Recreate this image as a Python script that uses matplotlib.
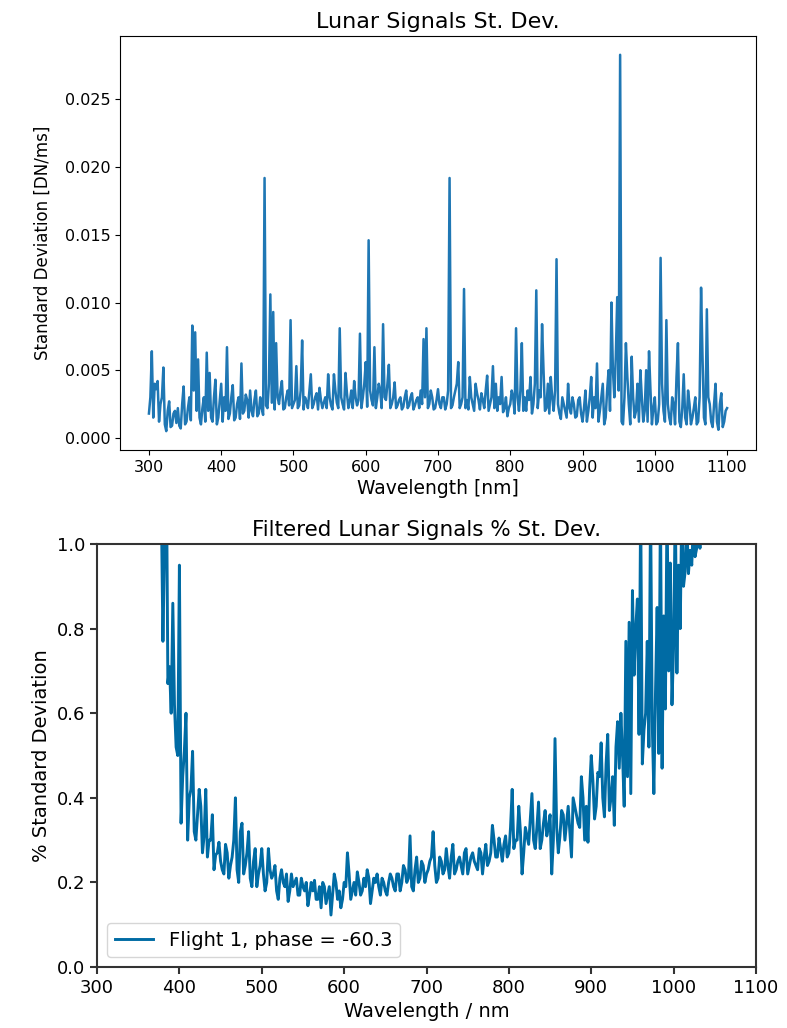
import matplotlib
matplotlib.use('Agg')
import matplotlib.pyplot as plt
import numpy as np

# top panel: raw st. dev. at 300, 304, ... 1100 nm
std_raw = [
    0.0018, 0.0064, 0.0040, 0.0042, 0.0025, 0.0052, 0.0005, 0.0027, 0.0009, 0.0020,
    0.0022, 0.0007, 0.0038, 0.0012, 0.0030, 0.0083, 0.0078, 0.0058, 0.0010, 0.0030,
    0.0063, 0.0048, 0.0012, 0.0043, 0.0015, 0.0040, 0.0030, 0.0067, 0.0018, 0.0039,
    0.0015, 0.0030, 0.0055, 0.0020, 0.0028, 0.0035, 0.0016, 0.0035, 0.0018, 0.0022,
    0.0192, 0.0022, 0.0106, 0.0093, 0.0070, 0.0025, 0.0042, 0.0022, 0.0035, 0.0087,
    0.0025, 0.0053, 0.0024, 0.0072, 0.0030, 0.0022, 0.0047, 0.0025, 0.0033, 0.0037,
    0.0022, 0.0030, 0.0047, 0.0024, 0.0047, 0.0026, 0.0081, 0.0025, 0.0048, 0.0022,
    0.0035, 0.0042, 0.0024, 0.0077, 0.0030, 0.0056, 0.0146, 0.0028, 0.0067, 0.0030,
    0.0035, 0.0084, 0.0028, 0.0054, 0.0025, 0.0041, 0.0024, 0.0030, 0.0023, 0.0035,
    0.0024, 0.0033, 0.0024, 0.0030, 0.0035, 0.0073, 0.0081, 0.0025, 0.0030, 0.0022,
    0.0036, 0.0022, 0.0030, 0.0025, 0.0192, 0.0024, 0.0035, 0.0056, 0.0025, 0.0110,
    0.0028, 0.0045, 0.0025, 0.0040, 0.0028, 0.0033, 0.0022, 0.0046, 0.0025, 0.0053,
    0.0040, 0.0030, 0.0045, 0.0022, 0.0016, 0.0025, 0.0030, 0.0081, 0.0020, 0.0070,
    0.0030, 0.0035, 0.0045, 0.0025, 0.0109, 0.0035, 0.0084, 0.0020, 0.0040, 0.0045,
    0.0020, 0.0132, 0.0018, 0.0030, 0.0020, 0.0040, 0.0018, 0.0025, 0.0016, 0.0030,
    0.0012, 0.0035, 0.0020, 0.0045, 0.0030, 0.0055, 0.0020, 0.0040, 0.0015, 0.0050,
    0.0100, 0.0030, 0.0104, 0.0283, 0.0010, 0.0070, 0.0025, 0.0060, 0.0015, 0.0040,
    0.0050, 0.0012, 0.0050, 0.0064, 0.0010, 0.0030, 0.0012, 0.0133, 0.0020, 0.0087,
    0.0015, 0.0030, 0.0010, 0.0070, 0.0008, 0.0047, 0.0010, 0.0025, 0.0015, 0.0030,
    0.0012, 0.0111, 0.0015, 0.0095, 0.0025, 0.0008, 0.0040, 0.0006, 0.0033, 0.0012,
    0.0022,
]
# values in between, at 302, 306, ... 1098 nm
std_raw_mid = [
    0.0030, 0.0015, 0.0036, 0.0012, 0.0030, 0.0010, 0.0020, 0.0008, 0.0018, 0.0011,
    0.0009, 0.0025, 0.0010, 0.0022, 0.0013, 0.0035, 0.0020, 0.0015, 0.0022, 0.0012,
    0.0020, 0.0015, 0.0030, 0.0010, 0.0028, 0.0012, 0.0020, 0.0014, 0.0030, 0.0013,
    0.0025, 0.0014, 0.0018, 0.0032, 0.0015, 0.0020, 0.0028, 0.0016, 0.0030, 0.0017,
    0.0024, 0.0040, 0.0026, 0.0021, 0.0030, 0.0035, 0.0021, 0.0030, 0.0024, 0.0022,
    0.0028, 0.0022, 0.0035, 0.0021, 0.0027, 0.0035, 0.0022, 0.0030, 0.0021, 0.0028,
    0.0026, 0.0022, 0.0030, 0.0021, 0.0035, 0.0022, 0.0030, 0.0021, 0.0033, 0.0027,
    0.0022, 0.0030, 0.0028, 0.0022, 0.0040, 0.0023, 0.0035, 0.0024, 0.0022, 0.0040,
    0.0022, 0.0030, 0.0040, 0.0022, 0.0030, 0.0022, 0.0028, 0.0021, 0.0030, 0.0022,
    0.0030, 0.0021, 0.0028, 0.0022, 0.0025, 0.0030, 0.0022, 0.0035, 0.0021, 0.0028,
    0.0025, 0.0030, 0.0021, 0.0035, 0.0022, 0.0030, 0.0040, 0.0022, 0.0030, 0.0022,
    0.0021, 0.0030, 0.0020, 0.0033, 0.0021, 0.0028, 0.0035, 0.0020, 0.0030, 0.0022,
    0.0020, 0.0025, 0.0019, 0.0030, 0.0022, 0.0035, 0.0018, 0.0030, 0.0035, 0.0020,
    0.0020, 0.0028, 0.0018, 0.0040, 0.0022, 0.0030, 0.0050, 0.0022, 0.0018, 0.0030,
    0.0035, 0.0025, 0.0014, 0.0025, 0.0015, 0.0022, 0.0030, 0.0015, 0.0028, 0.0018,
    0.0022, 0.0012, 0.0030, 0.0015, 0.0022, 0.0012, 0.0030, 0.0010, 0.0035, 0.0020,
    0.0050, 0.0060, 0.0035, 0.0012, 0.0030, 0.0045, 0.0010, 0.0030, 0.0020, 0.0012,
    0.0030, 0.0020, 0.0012, 0.0035, 0.0022, 0.0010, 0.0025, 0.0040, 0.0012, 0.0025,
    0.0010, 0.0025, 0.0045, 0.0012, 0.0022, 0.0015, 0.0035, 0.0010, 0.0022, 0.0010,
    0.0030, 0.0060, 0.0010, 0.0030, 0.0012, 0.0025, 0.0012, 0.0025, 0.0008, 0.0020,
]

# bottom panel: filtered % st. dev., 376, 380, ... 936 nm
pct_main = [
    1.25, 0.77, 1.25, 0.71, 0.86, 0.52, 0.95, 0.45, 0.60, 0.40,
    0.51, 0.30, 0.42, 0.27, 0.42, 0.30, 0.36, 0.265, 0.295, 0.23,
    0.29, 0.21, 0.26, 0.40, 0.20, 0.34, 0.24, 0.32, 0.19, 0.28,
    0.22, 0.28, 0.18, 0.28, 0.21, 0.24, 0.16, 0.23, 0.19, 0.155,
    0.22, 0.20, 0.17, 0.21, 0.18, 0.145, 0.20, 0.205, 0.16, 0.14,
    0.19, 0.17, 0.123, 0.22, 0.16, 0.14, 0.20, 0.27, 0.16, 0.20,
    0.225, 0.17, 0.21, 0.23, 0.15, 0.21, 0.22, 0.17, 0.20, 0.17,
    0.22, 0.19, 0.22, 0.18, 0.24, 0.20, 0.31, 0.18, 0.26, 0.21,
    0.24, 0.22, 0.25, 0.32, 0.20, 0.26, 0.22, 0.28, 0.21, 0.29,
    0.23, 0.26, 0.22, 0.28, 0.24, 0.27, 0.24, 0.28, 0.22, 0.29,
    0.25, 0.335, 0.26, 0.305, 0.25, 0.31, 0.27, 0.42, 0.30, 0.38,
    0.22, 0.33, 0.29, 0.41, 0.28, 0.39, 0.30, 0.37, 0.33, 0.22,
    0.54, 0.27, 0.37, 0.30, 0.38, 0.26, 0.38, 0.34, 0.45, 0.30,
    0.295, 0.50, 0.35, 0.46, 0.53, 0.355, 0.55, 0.40, 0.335, 0.58,
    0.60,
]
# in between, 378, 382, ... 938 nm
pct_mid = [
    1.10, 1.00, 0.67, 0.60, 0.62, 0.50, 0.34, 0.51, 0.30, 0.42,
    0.32, 0.36, 0.38, 0.31, 0.26, 0.30, 0.23, 0.27, 0.25, 0.22,
    0.27, 0.24, 0.30, 0.23, 0.32, 0.22, 0.27, 0.21, 0.25, 0.19,
    0.24, 0.22, 0.20, 0.23, 0.22, 0.18, 0.21, 0.20, 0.22, 0.18,
    0.19, 0.21, 0.17, 0.19, 0.20, 0.17, 0.18, 0.16, 0.19, 0.20,
    0.15, 0.19, 0.17, 0.20, 0.18, 0.16, 0.19, 0.22, 0.18, 0.17,
    0.20, 0.18, 0.19, 0.21, 0.18, 0.20, 0.19, 0.21, 0.18, 0.20,
    0.21, 0.18, 0.22, 0.20, 0.23, 0.21, 0.19, 0.23, 0.20, 0.25,
    0.20, 0.23, 0.26, 0.24, 0.21, 0.25, 0.23, 0.24, 0.26, 0.22,
    0.25, 0.24, 0.27, 0.22, 0.26, 0.25, 0.23, 0.27, 0.26, 0.24,
    0.27, 0.30, 0.26, 0.28, 0.29, 0.26, 0.33, 0.28, 0.30, 0.32,
    0.27, 0.31, 0.35, 0.30, 0.33, 0.28, 0.34, 0.31, 0.36, 0.30,
    0.33, 0.31, 0.36, 0.34, 0.32, 0.40, 0.36, 0.33, 0.40, 0.38,
    0.42, 0.44, 0.38, 0.45, 0.40, 0.48, 0.37, 0.45, 0.52, 0.47,
    0.50,
]
# red end, 940, 942, ... 1036 nm
pct_tail = [
    0.38, 0.77, 0.45, 0.815, 0.41, 0.89, 0.69, 0.80, 0.87, 0.55,
    1.10, 0.48, 0.56, 0.60, 0.77, 0.52, 1.10, 0.58, 0.41, 0.65,
    0.85, 0.505, 1.10, 0.47, 0.83, 0.61, 1.10, 0.70, 0.955, 0.62,
    0.76, 1.10, 0.695, 0.95, 0.80, 1.10, 0.90, 0.935, 1.05, 0.93,
    0.985, 0.95, 1.05, 0.97, 0.99, 1.02, 0.99, 1.03, 1.02,
]
label = 'Flight 1, phase = -60.3'

wl_raw = np.arange(300, 1101, 2)
std_all = np.empty(len(wl_raw))
std_all[0::2] = std_raw
std_all[1::2] = std_raw_mid

wl_pct = np.concatenate([np.arange(376, 939, 2), np.arange(940, 1037, 2)])
pct_head = np.column_stack([pct_main, pct_mid]).ravel()
pct_all = np.concatenate([pct_head, pct_tail])

fig = plt.figure(figsize=(7.87, 10.28), dpi=100)

# --- top panel, default look
ax1 = fig.add_axes([0.1525, 0.5623, 0.8081, 0.4027])
ax1.plot(wl_raw, std_all, color='#1f77b4', lw=1.8)
ax1.set_xticks(np.arange(300, 1101, 100))
ax1.set_yticks(np.arange(0, 0.0251, 0.005))
ax1.tick_params(labelsize=11.5)
ax1.set_title('Lunar Signals St. Dev.', fontsize=16)
ax1.set_xlabel('Wavelength [nm]', fontsize=13.5, labelpad=3)
ax1.set_ylabel('Standard Deviation [DN/ms]', fontsize=12, labelpad=9)

# --- bottom panel
ax2 = fig.add_axes([0.1233, 0.0593, 0.8373, 0.4115])
ax2.plot(wl_pct, pct_all, color='#006BA4', lw=2.1, label=label)
ax2.set_xlim(300, 1100)
ax2.set_ylim(0, 1.0)
ax2.set_xticks(np.arange(300, 1101, 100))
ax2.set_yticks(np.arange(0, 1.01, 0.2))
ax2.tick_params(labelsize=13, width=1.5, length=5, color='#333333')
for s in ax2.spines.values():
    s.set_linewidth(1.5)
    s.set_color('#333333')
ax2.set_title('Filtered Lunar Signals % St. Dev.', fontsize=15.5)
ax2.set_xlabel('Wavelength / nm', fontsize=14)
ax2.set_ylabel('% Standard Deviation', fontsize=14)
ax2.legend(loc='lower left', fontsize=14)

fig.savefig('out.png', dpi=100)
